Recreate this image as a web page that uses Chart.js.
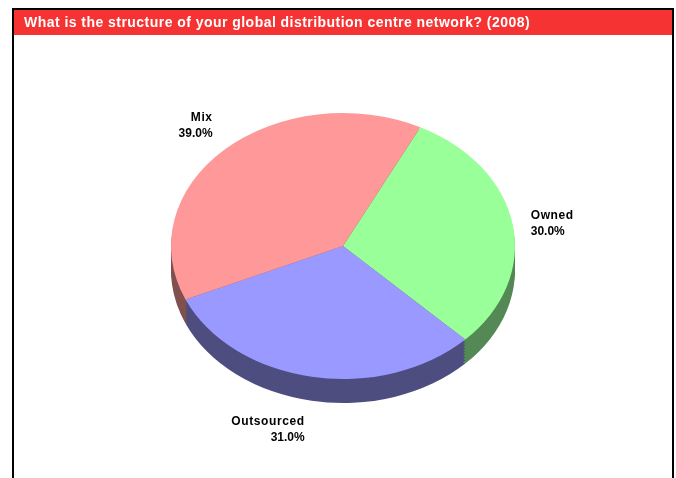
<!DOCTYPE html>
<html lang="en">
<head>
    <meta charset="UTF-8">
    <script src="https://cdn.jsdelivr.net/npm/chart.js"></script>
    <title>Distribution centre network</title>
    <style>
        html, body { margin: 0; padding: 0; background: #fff; }
        #wrap { width: 676px; height: 478px; }
        /* the original is a slightly soft upscaled image */
        canvas { filter: blur(0.35px); }
    </style>
</head>
<body>
    <div id="wrap"><canvas id="pie3d" width="676" height="478"></canvas></div>
    <script>
        const chartTitle = 'What is the structure of your global distribution centre network? (2008)';
        const categories = ['Owned', 'Outsourced', 'Mix'];
        const shares = [30.0, 31.0, 39.0];
        const topColors = ['#99ff99', '#9999ff', '#ff9999'];
        const sideColors = ['#548854', '#4d4d80', '#80504f'];

        // tilt of the fake 3d pie
        const squash = 133 / 172;
        const depth = 24;

        // where each label sits relative to its slice's rim point
        const labelPlacing = [
            { align: 'left', dx: 18, dy: -9 },
            { align: 'right', dx: -7, dy: 45 },
            { align: 'right', dx: -12, dy: -32 }
        ];

        function squashed(ctx, arc, yShift) {
            ctx.translate(arc.x, arc.y + yShift);
            ctx.scale(1, squash);
            ctx.translate(-arc.x, -arc.y);
        }

        const pie3d = {
            id: 'pie3d',
            beforeDraw(chart) {
                const ctx = chart.ctx;
                // frame and red banner
                ctx.save();
                ctx.fillStyle = '#000';
                ctx.fillRect(12, 8, 662, 470);
                ctx.fillStyle = '#fff';
                ctx.fillRect(14, 10, 658, 468);
                ctx.fillStyle = '#f53333';
                ctx.fillRect(14, 10, 658, 25);
                ctx.fillStyle = '#fff';
                ctx.font = 'bold 14px "Liberation Sans"';
                ctx.letterSpacing = '0.46px';
                ctx.textBaseline = 'middle';
                ctx.fillText(chartTitle, 24, 23);
                ctx.restore();
            },
            beforeDatasetsDraw(chart) {
                const ctx = chart.ctx;
                const arcs = chart.getDatasetMeta(0).data;
                // side wall: stack darker copies of the slices, deepest first
                // big steps on purpose, many overlaps leave faint vertical stripes
                for (let d = depth; d > 0; d -= 3) {
                    arcs.forEach(function(arc, i) {
                        const saved = arc.options;
                        arc.options = Object.assign({}, saved, { backgroundColor: sideColors[i] });
                        ctx.save();
                        squashed(ctx, arc, d);
                        arc.draw(ctx);
                        ctx.restore();
                        arc.options = saved;
                    });
                }
                ctx.save();
                squashed(ctx, arcs[0], 0);
            },
            afterDatasetsDraw(chart) {
                const ctx = chart.ctx;
                ctx.restore();
                ctx.save();
                ctx.fillStyle = '#000';
                ctx.font = 'bold 12px "Liberation Sans"';
                ctx.textBaseline = 'middle';
                chart.getDatasetMeta(0).data.forEach(function(arc, i) {
                    const mid = (arc.startAngle + arc.endAngle) / 2;
                    const x = arc.x + arc.outerRadius * Math.cos(mid);
                    const y = arc.y + arc.outerRadius * squash * Math.sin(mid);
                    const place = labelPlacing[i];
                    ctx.textAlign = place.align;
                    ctx.letterSpacing = '0.6px';
                    ctx.fillText(categories[i], x + place.dx, y + place.dy);
                    ctx.letterSpacing = '0px';
                    ctx.fillText(shares[i].toFixed(1) + '%', x + place.dx, y + place.dy + 16);
                });
                ctx.restore();
            }
        };

        new Chart(document.getElementById('pie3d'), {
            type: 'pie',
            plugins: [pie3d],
            data: {
                labels: categories,
                datasets: [{
                    data: shares,
                    backgroundColor: topColors,
                    borderWidth: 0
                }]
            },
            options: {
                responsive: false,
                animation: false,
                rotation: 26.7,
                layout: { padding: { left: 171, right: 161, top: 74, bottom: 60 } },
                plugins: {
                    legend: { display: false },
                    tooltip: { enabled: false }
                }
            }
        });
    </script>
</body>
</html>
